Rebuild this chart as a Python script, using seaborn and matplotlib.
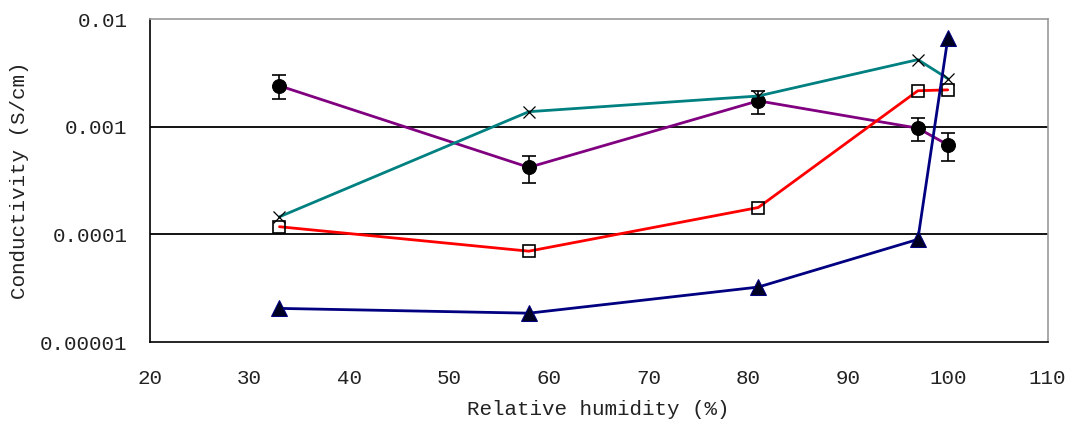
import matplotlib
matplotlib.use("Agg")
import matplotlib.pyplot as plt
import seaborn as sns
import pandas as pd
from matplotlib.ticker import FixedLocator, FixedFormatter, NullLocator

# Data
humidity = [33, 58, 81, 97, 100]
circle_vals = [0.0024, 0.00042, 0.00174, 0.00097, 0.00068]
circle_err = [0.0006, 0.00012, 0.00042, 0.00024, 0.0002]
cross_vals = [0.000146, 0.00138, 0.00193, 0.0042, 0.0028]
square_vals = [0.000118, 0.00007, 0.000178, 0.00216, 0.0022]
triangle_vals = [0.0000206, 0.0000186, 0.0000325, 0.00009, 0.0066]

y_ticks = [0.00001, 0.0001, 0.001, 0.01]
y_labels = ["0.00001", "0.0001", "0.001", "0.01"]
x_ticks = [20, 30, 40, 50, 60, 70, 80, 90, 100, 110]

sns.set_style("white")
plt.rcParams['font.family'] = ['Liberation Mono', 'DejaVu Sans Mono']

fig = plt.figure(figsize=(10.7, 4.23), dpi=100)
ax = fig.add_axes([0.140, 0.191, 0.839, 0.764])

df = pd.DataFrame({
    "humidity": humidity * 4,
    "value": circle_vals + cross_vals + square_vals + triangle_vals,
    "series": ["circle"] * 5 + ["cross"] * 5 + ["square"] * 5 + ["triangle"] * 5,
})

# gridlines
for g in [0.0001, 0.001]:
    ax.axhline(g, color="black", lw=1.3, zorder=1)

# purple with error bars
sub = df[df.series == "circle"]
sns.lineplot(data=sub, x="humidity", y="value", color="#800080", lw=2,
             marker="o", markersize=10, markerfacecolor="black",
             markeredgecolor="black", ax=ax, zorder=3)
ax.errorbar(humidity, circle_vals, yerr=circle_err, fmt="none",
            ecolor="black", elinewidth=1.2, capsize=5, capthick=1.2, zorder=4)

sub = df[df.series == "cross"]
sns.lineplot(data=sub, x="humidity", y="value", color="#008080", lw=2,
             marker="x", markersize=9, markeredgecolor="black",
             markeredgewidth=0.9, ax=ax, zorder=3)

sub = df[df.series == "square"]
sns.lineplot(data=sub, x="humidity", y="value", color="#FF0000", lw=2,
             marker="s", markersize=9, markerfacecolor="none",
             markeredgecolor="black", markeredgewidth=1.2, ax=ax, zorder=4)

sub = df[df.series == "triangle"]
sns.lineplot(data=sub, x="humidity", y="value", color="#000080", lw=2,
             marker="^", markersize=11, markerfacecolor="#000022",
             markeredgecolor="#000080", ax=ax, zorder=5)

ax.set_yscale("log")
ax.set_ylim(0.00001, 0.01)
ax.set_xlim(20, 110)
ax.yaxis.set_major_locator(FixedLocator(y_ticks))
ax.yaxis.set_major_formatter(FixedFormatter(y_labels))
ax.yaxis.set_minor_locator(NullLocator())
ax.set_xticks(x_ticks)
ax.tick_params(axis="x", direction="in", length=6, width=1, color="black",
               labelsize=15, pad=19, labelcolor="#222222")
ax.tick_params(axis="y", length=0, labelsize=15, pad=16, labelcolor="#222222")

for side in ["left", "bottom"]:
    ax.spines[side].set_color("black")
    ax.spines[side].set_linewidth(1.2)
for side in ["top", "right"]:
    ax.spines[side].set_color("#999999")
    ax.spines[side].set_linewidth(1.2)

ax.set_xlabel("Relative humidity (%)", fontsize=15, labelpad=9, color="#222222")
ax.set_ylabel("Conductivity (S/cm)", fontsize=15, labelpad=8, color="#222222")
ax.legend_ = None

fig.savefig("out.png", dpi=100)
